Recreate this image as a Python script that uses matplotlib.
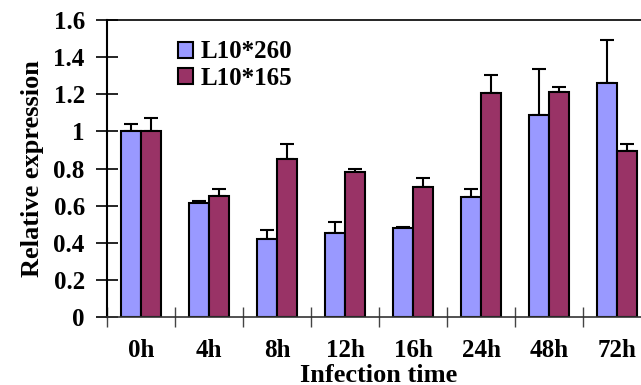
import matplotlib
matplotlib.use("Agg")
import matplotlib.pyplot as plt
import numpy as np

times = ["0h", "4h", "8h", "12h", "16h", "24h", "48h", "72h"]
l260 = [1.00, 0.613, 0.42, 0.454, 0.478, 0.648, 1.088, 1.261]
l260_err = [0.04, 0.01, 0.05, 0.056, 0.005, 0.04, 0.25, 0.23]
l165 = [1.00, 0.65, 0.85, 0.783, 0.70, 1.205, 1.212, 0.894]
l165_err = [0.07, 0.04, 0.08, 0.017, 0.047, 0.097, 0.026, 0.038]

plt.rcParams['font.family'] = ['Liberation Serif', 'DejaVu Serif']
plt.rcParams['font.weight'] = 'bold'

fig = plt.figure(figsize=(6.41, 3.85), dpi=100)
ax = fig.add_axes([107/641, 68/385, 544/641, 297/385])

x = np.arange(len(times)) + 0.5
w = 0.287
ax.bar(x - w/2, l260, w, color='#9999FF', edgecolor='black', linewidth=1.5,
       label='L10*260', zorder=2)
ax.bar(x + w/2, l165, w, color='#993366', edgecolor='black', linewidth=1.5,
       label='L10*165', zorder=2)
ax.errorbar(x - w/2, l260, yerr=[np.zeros(8), l260_err], fmt='none',
            ecolor='black', elinewidth=1.5, capsize=5, capthick=1.5, zorder=1)
ax.errorbar(x + w/2, l165, yerr=[np.zeros(8), l165_err], fmt='none',
            ecolor='black', elinewidth=1.5, capsize=5, capthick=1.5, zorder=1)

ax.set_xlim(0, 8)
ax.set_ylim(0, 1.6)
ax.set_yticks(np.arange(0, 1.61, 0.2))
ax.set_yticklabels(['0', '0.2', '0.4', '0.6', '0.8', '1', '1.2', '1.4', '1.6'])
ax.set_xticks(np.arange(0, 9))
ax.set_xticklabels([])
ax.set_xticks(x, minor=True)
ax.set_xticklabels(times, minor=True)
ax.tick_params(axis='x', which='minor', length=0, labelsize=18, pad=16)
ax.tick_params(axis='x', which='major', direction='inout', length=14,
               width=1, color='#444444')
ax.tick_params(axis='y', direction='inout', length=16, width=1.2, labelsize=18, pad=8)

ax.spines['right'].set_visible(False)
ax.spines['left'].set_linewidth(1.5)
ax.spines['top'].set_linewidth(1.2)
ax.spines['bottom'].set_linewidth(1.2)
ax.spines['bottom'].set_color('#333333')

ax.set_ylabel('Relative expression', fontsize=19, fontweight='bold', labelpad=7)
ax.set_xlabel('Infection time', fontsize=19, fontweight='bold', labelpad=1)

ax.legend(loc='upper left', bbox_to_anchor=(0.113, 0.965), frameon=False,
          fontsize=18, handlelength=0.6, handleheight=0.6, handletextpad=0.3,
          labelspacing=0.15, borderaxespad=0)

fig.savefig('out.png', dpi=100)
